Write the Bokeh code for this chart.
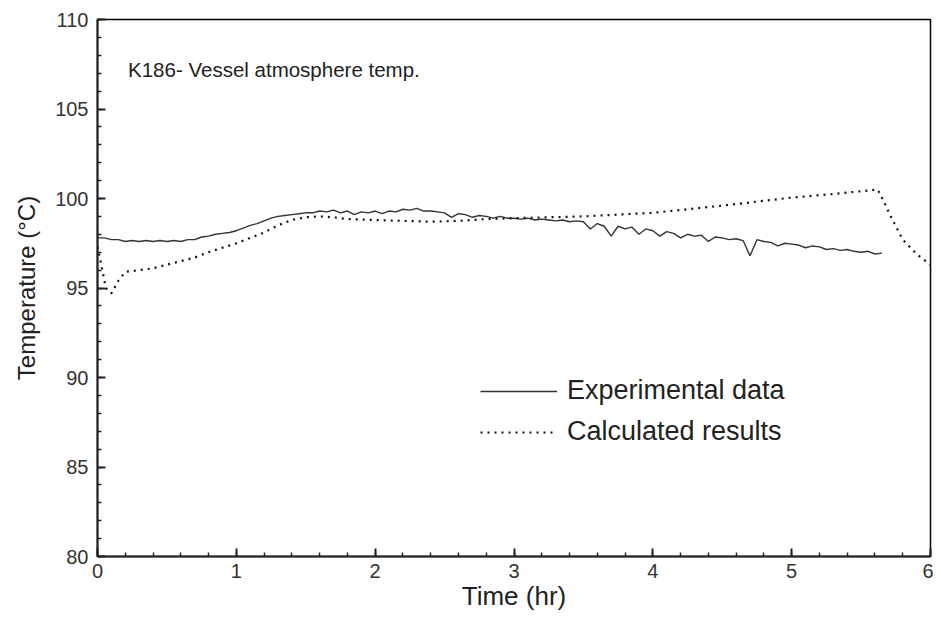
import numpy as np
from bokeh.plotting import figure
from bokeh.models import SingleIntervalTicker, Legend, LegendItem, Range1d, Label
from bokeh.embed import file_html
from bokeh.resources import INLINE

# Experimental data (time grid 0..5.65 hr, step 0.05)
t_exp = np.round(np.arange(0, 5.651, 0.05), 3)
T_exp = [97.8, 97.8, 97.7, 97.7, 97.6, 97.65, 97.6, 97.65, 97.6, 97.65,
         97.6, 97.65, 97.6, 97.7, 97.7, 97.85, 97.9, 98.0, 98.05, 98.1,
         98.2, 98.35, 98.5, 98.6, 98.75, 98.9, 99.0, 99.05, 99.1, 99.15,
         99.2, 99.2, 99.3, 99.25, 99.35, 99.2, 99.3, 99.1, 99.25, 99.2,
         99.3, 99.15, 99.3, 99.25, 99.4, 99.35, 99.45, 99.3, 99.3, 99.25,
         99.2, 98.95, 99.15, 99.1, 98.95, 99.05, 99.0, 98.9, 99.0, 98.9,
         98.9, 98.85, 98.9, 98.8, 98.85, 98.8, 98.75, 98.8, 98.7, 98.75,
         98.7, 98.3, 98.6, 98.45, 97.9, 98.45, 98.3, 98.4, 98.0, 98.3,
         98.2, 97.9, 98.15, 98.05, 97.8, 98.0, 97.9, 97.95, 97.6, 97.85,
         97.8, 97.7, 97.75, 97.65, 96.8, 97.7, 97.6, 97.55, 97.35, 97.5,
         97.45, 97.4, 97.25, 97.35, 97.3, 97.15, 97.2, 97.1, 97.15, 97.05,
         97.0, 97.05, 96.9, 96.95]

# Calculated results
t_calc = [0, 0.03, 0.06, 0.1, 0.15, 0.2, 0.3, 0.4, 0.5, 0.6, 0.7, 0.8, 0.9,
          1.0, 1.1, 1.2, 1.3, 1.4, 1.5, 1.6, 1.7, 1.8, 2.0, 2.2, 2.4, 2.6,
          2.8, 3.0, 3.5, 4.0, 4.5, 5.0, 5.3, 5.62, 5.66, 5.72, 5.8, 5.9, 6.0]
T_calc = [97.3, 96.2, 95.0, 94.7, 95.4, 95.9, 96.0, 96.1, 96.3, 96.5, 96.7,
          97.0, 97.25, 97.5, 97.8, 98.1, 98.5, 98.8, 98.95, 99.0, 98.95,
          98.85, 98.8, 98.75, 98.7, 98.75, 98.85, 98.9, 99.0, 99.2, 99.6,
          100.05, 100.25, 100.5, 99.9, 98.9, 97.7, 96.9, 96.3]

x_ticks_interval = 1
y_ticks_interval = 5

FONT = "Liberation Sans"

p = figure(width=933, height=617, output_backend="svg", toolbar_location=None,
           x_range=Range1d(0, 6), y_range=Range1d(80, 110),
           min_border_left=97, min_border_right=3, min_border_top=19,
           min_border_bottom=61)
p.grid.visible = False
p.outline_line_color = "black"
p.outline_line_width = 1.5

p.xaxis.ticker = SingleIntervalTicker(interval=x_ticks_interval, num_minor_ticks=5)
p.yaxis.ticker = SingleIntervalTicker(interval=y_ticks_interval, num_minor_ticks=5)
for ax in (p.xaxis[0], p.yaxis[0]):
    ax.axis_line_width = 2
    ax.axis_line_color = "#222222"
    ax.major_tick_in = 8
    ax.major_tick_out = 0
    ax.minor_tick_in = 4
    ax.minor_tick_out = 0
    ax.major_tick_line_width = 2
    ax.minor_tick_line_width = 1.5
    ax.major_tick_line_color = "#222222"
    ax.minor_tick_line_color = "#222222"
    ax.major_label_text_font = FONT
    ax.major_label_text_font_size = "20px"
    ax.major_label_text_color = "#333333"
    ax.axis_label_text_font = FONT
    ax.axis_label_text_font_style = "normal"
    ax.axis_label_text_color = "#222222"

p.xaxis.axis_label = "Time (hr)"
p.yaxis.axis_label = "Temperature (\u00b0C)"
p.xaxis.axis_label_text_font_size = "26px"
p.yaxis.axis_label_text_font_size = "24px"
p.xaxis.major_label_standoff = 7
p.xaxis.axis_label_standoff = 0
p.yaxis.major_label_standoff = 9
p.yaxis.axis_label_standoff = 12

r_exp = p.line(t_exp, T_exp, line_color="#333333", line_width=1.4)
r_calc = p.line(t_calc, T_calc, line_color="#111111", line_width=2.2,
                line_dash="2 5")

p.add_layout(Label(x=0.22, y=107.2, text="K186- Vessel atmosphere temp.",
                   text_font=FONT, text_font_size="20.5px", text_color="#222222",
                   text_baseline="middle"))

legend = Legend(items=[LegendItem(label="Experimental data", renderers=[r_exp]),
                       LegendItem(label="Calculated results", renderers=[r_calc])],
                location=(383, 109), glyph_width=77, glyph_height=30,
                label_height=30, spacing=10, padding=0, label_standoff=10,
                border_line_color=None, background_fill_alpha=0,
                label_text_font=FONT, label_text_font_size="27px",
                label_text_color="#222222")
p.add_layout(legend)

open("out.html", "w").write(file_html(p, INLINE))
